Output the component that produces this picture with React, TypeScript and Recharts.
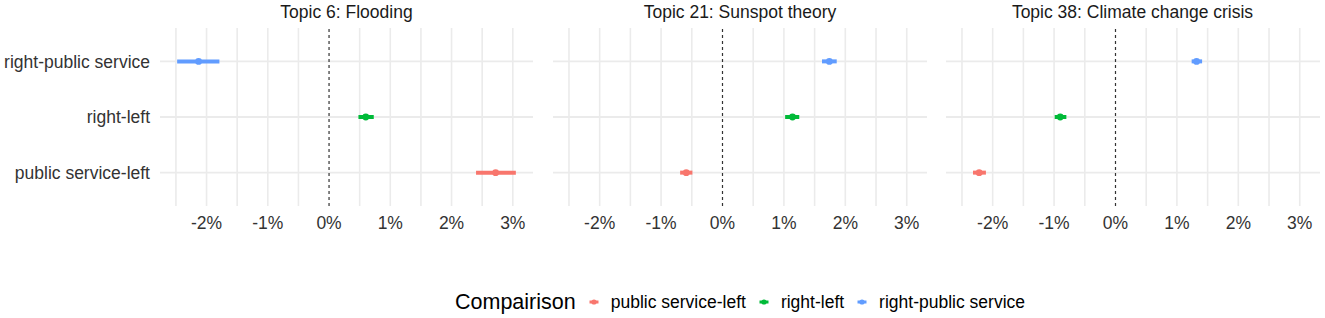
import React from "react";
import {
  ScatterChart,
  Scatter,
  XAxis,
  YAxis,
  ReferenceLine,
  ErrorBar,
} from "recharts";

const topics = ["Topic 6: Flooding", "Topic 21: Sunspot theory", "Topic 38: Climate change crisis"];
// legend order (bottom to top on the y axis)
const comparisons = ["public service-left", "right-left", "right-public service"];
const colors = ["#F8766D", "#00BA38", "#619CFF"];

// estimates (%), one value per topic
const estPublicLeft = [2.72, -0.59, -2.22];
const estRightLeft = [0.6, 1.14, -0.9];
const estRightPublic = [-2.13, 1.74, 1.32];
// lower bounds
const loPublicLeft = [2.4, -0.69, -2.32];
const loRightLeft = [0.48, 1.02, -0.99];
const loRightPublic = [-2.48, 1.62, 1.24];
// upper bounds
const hiPublicLeft = [3.05, -0.49, -2.11];
const hiRightLeft = [0.73, 1.25, -0.8];
const hiRightPublic = [-1.79, 1.86, 1.41];

const xTicks = [-2, -1, 0, 1, 2, 3];
const xGrid = [-2.5, -2, -1.5, -1, -0.5, 0.5, 1, 1.5, 2, 2.5, 3];
const yRows = [1, 2, 3];
const xDomain = [-2.76, 3.33];

const est = [estPublicLeft, estRightLeft, estRightPublic];
const lo = [loPublicLeft, loRightLeft, loRightPublic];
const hi = [hiPublicLeft, hiRightLeft, hiRightPublic];

const font = "'Liberation Sans', Arial, Helvetica, sans-serif";
const gridColor = "#ebebeb";

function Panel({ t, first }: { t: number; first: boolean }) {
  return (
    <ScatterChart
      width={first ? 533 : 374}
      height={240}
      margin={{ top: 28, right: 0, bottom: 0, left: 0 }}
      style={{ fontFamily: font }}
    >
      <XAxis
        type="number"
        dataKey="x"
        domain={xDomain}
        ticks={xTicks}
        allowDataOverflow
        tickFormatter={(v: number) => `${v}%`}
        tick={{ fontSize: 17.5, fill: "#333333" }}
        tickLine={false}
        tickSize={0}
        tickMargin={11}
        axisLine={false}
        height={34}
      />
      <YAxis
        type="number"
        dataKey="y"
        domain={[0.4, 3.6]}
        ticks={yRows}
        tickFormatter={(v: number) => comparisons[v - 1] ?? ""}
        tick={first ? { fontSize: 17.5, fill: "#333333" } : false}
        tickLine={false}
        tickSize={0}
        tickMargin={10}
        axisLine={false}
        width={first ? 160 : 0}
      />
      {xGrid.map((v) => (
        <ReferenceLine key={`x${v}`} x={v} stroke={gridColor} strokeWidth={1.6} />
      ))}
      {yRows.map((v) => (
        <ReferenceLine key={`y${v}`} y={v} stroke={gridColor} strokeWidth={1.8} />
      ))}
      <ReferenceLine x={0} stroke="#333333" strokeDasharray="3 3" strokeWidth={1.2} />
      {comparisons.map((c, i) => (
        <Scatter
          key={c}
          name={c}
          data={[{ x: est[i][t], y: i + 1, err: [est[i][t] - lo[i][t], hi[i][t] - est[i][t]] }]}
          fill={colors[i]}
          isAnimationActive={false}
          shape={(p: any) => <circle cx={p.cx} cy={p.cy} r={3.4} fill={colors[i]} />}
        >
          <ErrorBar
            dataKey="err"
            direction="x"
            width={0}
            stroke={colors[i]}
            strokeWidth={4}
            isAnimationActive={false}
          />
        </Scatter>
      ))}
    </ScatterChart>
  );
}

const panelLeft = [0, 553, 946];
const titleCenter = [346.5, 740, 1132.5];

export default function App() {
  return (
    <div
      style={{
        position: "absolute",
        left: 0,
        top: 0,
        width: 1325,
        height: 318,
        background: "#fff",
        fontFamily: font,
        overflow: "hidden",
      }}
    >
      {topics.map((title, t) => (
        <React.Fragment key={title}>
          <div
            style={{
              position: "absolute",
              left: titleCenter[t] - 200,
              width: 400,
              top: 2,
              textAlign: "center",
              fontSize: 17.5,
              lineHeight: "20px",
              color: "#1a1a1a",
            }}
          >
            {title}
          </div>
          <div style={{ position: "absolute", left: panelLeft[t], top: 0 }}>
            <Panel t={t} first={t === 0} />
          </div>
        </React.Fragment>
      ))}
      <div
        style={{
          position: "absolute",
          left: 455,
          top: 289,
          display: "flex",
          alignItems: "center",
          height: 26,
          color: "#000",
        }}
      >
        <span style={{ fontSize: 21.5, marginRight: 12 }}>Compairison</span>
        {comparisons.map((c, i) => (
          <span key={c} style={{ display: "flex", alignItems: "center", marginRight: 12 }}>
            <svg width={12} height={10} style={{ marginRight: 11 }}>
              <line x1={1.5} x2={10.5} y1={5} y2={5} stroke={colors[i]} strokeWidth={3} />
              <circle cx={6} cy={5} r={2.6} fill={colors[i]} />
            </svg>
            <span style={{ fontSize: 17.5 }}>{c}</span>
          </span>
        ))}
      </div>
    </div>
  );
}
